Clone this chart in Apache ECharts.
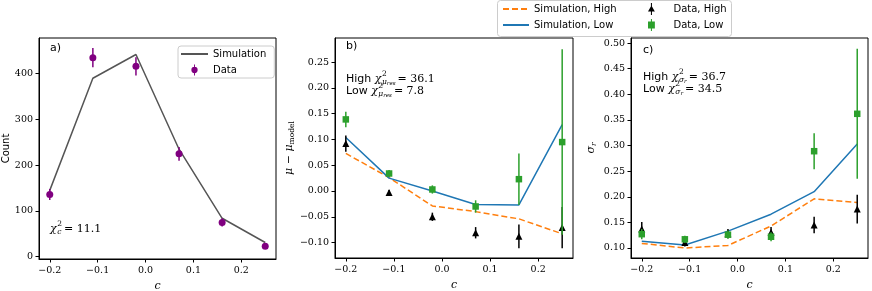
<!DOCTYPE html>
<html><head><meta charset="utf-8">
<script src="https://cdn.jsdelivr.net/npm/echarts@6/dist/echarts.min.js"></script>
<style>html,body{margin:0;padding:0;background:#fff}#c{width:872px;height:291px}</style>
</head><body><div id="c"></div>
<script>
// ---- data ----
const cVals = [-0.2, -0.11, -0.02, 0.07, 0.16, 0.25];
const xTicks = [-0.2, -0.1, 0.0, 0.1, 0.2];

const countData = [136, 435, 416, 225, 75, 23];
const countErr = [12, 21, 20, 15, 9, 5];
const countSim = [145, 390, 442, 235, 84, 31];
const countTicks = [0, 100, 200, 300, 400];

const muDataHigh = [0.092, -0.003, -0.050, -0.081, -0.088, -0.071];
const muErrHigh = [0.016, 0.005, 0.008, 0.011, 0.023, 0.040];
const muDataLow = [0.139, 0.034, 0.003, -0.030, 0.023, 0.095];
const muErrLow = [0.015, 0.007, 0.008, 0.012, 0.050, 0.180];
const muSimHigh = [0.073, 0.026, -0.029, -0.040, -0.054, -0.083];
const muSimLow = [0.104, 0.025, 0.000, -0.026, -0.027, 0.129];
const muTicks = [-0.10, -0.05, 0.00, 0.05, 0.10, 0.15, 0.20, 0.25];

const sigDataHigh = [0.137, 0.111, 0.128, 0.131, 0.145, 0.176];
const sigErrHigh = [0.014, 0.008, 0.009, 0.010, 0.016, 0.028];
const sigDataLow = [0.127, 0.117, 0.126, 0.122, 0.289, 0.362];
const sigErrLow = [0.010, 0.007, 0.008, 0.009, 0.035, 0.127];
const sigSimHigh = [0.109, 0.100, 0.105, 0.143, 0.196, 0.189];
const sigSimLow = [0.113, 0.106, 0.133, 0.166, 0.210, 0.303];
const sigTicks = [0.10, 0.15, 0.20, 0.25, 0.30, 0.35, 0.40, 0.45, 0.50];

// ---- styles ----
const SERIF = '"DejaVu Serif"';
const SANS = '"DejaVu Sans"';
const C_PURPLE = '#800080', C_GRAY = '#555555', C_ORANGE = '#ff7f0e', C_BLUE = '#1f77b4', C_GREEN = '#2ca02c';
const TICK_FS = 9.5;

const pair = (ys) => cVals.map((c, i) => [c, ys[i]]);
const triple = (ys, es) => cVals.map((c, i) => [c, ys[i], es[i]]);
const minus = (s) => s.replace('-', '\u2212');

function xAxisCfg(gi) {
  return {
    type: 'value', gridIndex: gi, min: -0.2225, max: 0.2725,
    name: 'c', nameLocation: 'middle', nameGap: 22,
    nameTextStyle: { fontFamily: SERIF, fontStyle: 'italic', fontSize: 11, color: '#000' },
    axisLine: { show: true, onZero: false, lineStyle: { color: '#000', width: 1 } },
    axisTick: { show: true, customValues: xTicks, length: 3.5, lineStyle: { color: '#000' } },
    axisLabel: { customValues: xTicks, formatter: v => minus(v.toFixed(1)), fontFamily: SERIF, fontSize: TICK_FS, color: '#000', margin: 7 },
    splitLine: { show: false }
  };
}
function yAxisCfg(gi, min, max, ticks, dec, name, nameStyle, gap) {
  return {
    type: 'value', gridIndex: gi, min: min, max: max,
    name: name, nameLocation: 'middle', nameGap: gap, nameRotate: 90,
    nameTextStyle: nameStyle,
    axisLine: { show: true, onZero: false, lineStyle: { color: '#000', width: 1 } },
    axisTick: { show: true, customValues: ticks, length: 3.5, lineStyle: { color: '#000' } },
    axisLabel: { customValues: ticks, formatter: v => minus(v.toFixed(dec)), fontFamily: SERIF, fontSize: TICK_FS, color: '#000', margin: 6 },
    splitLine: { show: false }
  };
}

function errSeries(name, gi, data, color, z) {
  return {
    name: name, type: 'custom', xAxisIndex: gi, yAxisIndex: gi, z: z, silent: true,
    data: data,
    renderItem: (params, api) => {
      const x = api.value(0), y = api.value(1), e = api.value(2);
      const p1 = api.coord([x, y - e]);
      const p2 = api.coord([x, y + e]);
      return { type: 'line', shape: { x1: p1[0], y1: p1[1], x2: p2[0], y2: p2[1] }, style: { stroke: color, lineWidth: 1.5 } };
    }
  };
}
function lineSeries(name, gi, ys, color, dashed) {
  return {
    name: name, type: 'line', xAxisIndex: gi, yAxisIndex: gi, data: pair(ys), symbol: 'none', z: 2,
    lineStyle: { color: color, width: 1.5, type: dashed ? [6, 3] : 'solid' },
    itemStyle: { color: color }
  };
}
function scatterSeries(name, gi, ys, color, symbol, size, z) {
  return {
    name: name, type: 'scatter', xAxisIndex: gi, yAxisIndex: gi, data: pair(ys), symbol: symbol, symbolSize: size, z: z,
    itemStyle: { color: color, opacity: 1 }
  };
}

// ---- math annotation helper ----
const meas = document.createElement('canvas').getContext('2d');
function tw(t, font) { meas.font = font; return meas.measureText(t).width; }
function txt(x, y, t, font, color) {
  return { type: 'text', x: x, y: y, z: 100, style: { text: t, font: font, fill: color || '#000', verticalAlign: 'middle', align: 'left' } };
}
function chiLabel(x, y, prefix, subParts, value) {
  const out = [];
  let cx = x;
  const fSans = '11px ' + SANS;
  const fMain = 'italic 11px ' + SERIF;
  const fSup = '7.5px ' + SERIF;
  if (prefix) { out.push(txt(cx, y, prefix, fSans)); cx += tw(prefix, fSans); }
  out.push(txt(cx, y, '\u03c7', fMain)); cx += tw('\u03c7', fMain) + 0.5;
  out.push(txt(cx, y - 4.5, '2', fSup));
  let sx = cx;
  subParts.forEach(p => { out.push(txt(sx, y + 3 + (p.dy || 0), p.t, p.font)); sx += tw(p.t, p.font); });
  cx = Math.max(cx + tw('2', fSup), sx) + 2;
  const rest = '= ' + value;
  out.push(txt(cx, y, rest, '11px ' + SERIF));
  return out;
}
const subI = 'italic 7.5px ' + SERIF;
const subII = 'italic 5.5px ' + SERIF;

const graphics = [].concat(
  [txt(50, 48, 'a)', '11px ' + SANS)],
  chiLabel(50, 229, '', [{ t: 'c', font: subI }], '11.1'),
  [txt(346, 46, 'b)', '11px ' + SANS)],
  chiLabel(346, 79, 'High ', [{ t: '\u03bc', font: subI }, { t: 'res', font: subII, dy: 2 }], '36.1'),
  chiLabel(346, 91, 'Low ', [{ t: '\u03bc', font: subI }, { t: 'res', font: subII, dy: 2 }], '7.8'),
  [txt(643, 50, 'c)', '11px ' + SANS)],
  chiLabel(643, 77, 'High ', [{ t: '\u03c3', font: subI }, { t: 'r', font: subII, dy: 2 }], '36.7'),
  chiLabel(643, 89, 'Low ', [{ t: '\u03c3', font: subI }, { t: 'r', font: subII, dy: 2 }], '34.5'),
  [{ type: 'rect', z: 3, shape: { x: 497.5, y: 0.5, width: 234, height: 36, r: 3 }, style: { fill: 'rgba(255,255,255,0.85)', stroke: '#cccccc', lineWidth: 1 } }]
);

// legend icons: marker with vertical error stem
const ICON_CIRCLE = 'path://M0,7 A4,4 0 1,1 8,7 A4,4 0 1,1 0,7 Z M3.4,0 L4.6,0 L4.6,14 L3.4,14 Z';
const ICON_TRI = 'path://M0,10 L4,3 L8,10 Z M3.4,0 L4.6,0 L4.6,14 L3.4,14 Z';
const ICON_SQ = 'path://M0,3 L8,3 L8,11 L0,11 Z M3.4,0 L4.6,0 L4.6,14 L3.4,14 Z';

const legendText = { fontFamily: SANS, fontSize: 10, color: '#000', lineHeight: 12 };
const gridBase = { show: true, borderColor: '#000', borderWidth: 1, backgroundColor: 'transparent', containLabel: false, outerBoundsMode: 'none' };

const option = {
  animation: false,
  backgroundColor: '#fff',
  grid: [
    Object.assign({ left: 39, top: 38, width: 237, height: 221 }, gridBase),
    Object.assign({ left: 335, top: 38, width: 238, height: 220 }, gridBase),
    Object.assign({ left: 631, top: 38, width: 237, height: 220 }, gridBase)
  ],
  xAxis: [xAxisCfg(0), xAxisCfg(1), xAxisCfg(2)],
  yAxis: [
    yAxisCfg(0, -5, 478, countTicks, 0, 'Count', { fontFamily: SANS, fontSize: 10, color: '#000' }, 27),
    yAxisCfg(1, -0.130, 0.297, muTicks, 2, '{i|\u03bc} \u2212 {i|\u03bc}{s|model}',
      { fontFamily: SERIF, fontSize: 11, color: '#000', rich: { i: { fontFamily: SERIF, fontStyle: 'italic', fontSize: 11 }, s: { fontFamily: SERIF, fontSize: 7.5, padding: [5, 0, 0, 0] } } }, 35),
    yAxisCfg(2, 0.0805, 0.51, sigTicks, 2, '{i|\u03c3}{s|r}',
      { fontFamily: SERIF, fontSize: 11, color: '#000', rich: { i: { fontFamily: SERIF, fontStyle: 'italic', fontSize: 11 }, s: { fontFamily: SERIF, fontStyle: 'italic', fontSize: 7.5, padding: [5, 0, 0, 0] } } }, 33)
  ],
  legend: [
    { data: [{ name: 'Simulation', itemStyle: { opacity: 0 } }, { name: 'Data', icon: ICON_CIRCLE, itemStyle: { opacity: 1 } }],
      orient: 'vertical', left: 178, top: 46, itemWidth: 27, itemHeight: 11, itemGap: 4,
      textStyle: legendText, backgroundColor: 'rgba(255,255,255,0.85)', borderColor: '#cccccc', borderWidth: 1, borderRadius: 3, padding: [2, 8, 2, 2], selectedMode: false },
    { data: ['Simulation, High', 'Simulation, Low'], orient: 'vertical', left: 502, top: 3, padding: 0, itemWidth: 26, itemHeight: 12, itemGap: 4,
      itemStyle: { opacity: 0 }, textStyle: legendText, selectedMode: false, z: 10 },
    { data: [{ name: 'Data, High', icon: ICON_TRI }, { name: 'Data, Low', icon: ICON_SQ }], orient: 'vertical', left: 648, top: 3, padding: 0,
      itemWidth: 8, itemHeight: 12, itemGap: 4,
      textStyle: Object.assign({}, legendText, { padding: [0, 0, 0, 13] }), selectedMode: false, z: 10 }
  ],
  graphic: graphics,
  series: [
    lineSeries('Simulation', 0, countSim, C_GRAY, false),
    errSeries('errData', 0, triple(countData, countErr), C_PURPLE, 3),
    scatterSeries('Data', 0, countData, C_PURPLE, 'circle', 7, 4),

    lineSeries('Simulation, High', 1, muSimHigh, C_ORANGE, true),
    lineSeries('Simulation, Low', 1, muSimLow, C_BLUE, false),
    errSeries('errH1', 1, triple(muDataHigh, muErrHigh), '#000', 3),
    scatterSeries('Data, High', 1, muDataHigh, '#000', 'triangle', 7, 4),
    errSeries('errL1', 1, triple(muDataLow, muErrLow), C_GREEN, 5),
    scatterSeries('Data, Low', 1, muDataLow, C_GREEN, 'rect', 6.5, 6),

    lineSeries('Simulation, High', 2, sigSimHigh, C_ORANGE, true),
    lineSeries('Simulation, Low', 2, sigSimLow, C_BLUE, false),
    errSeries('errH2', 2, triple(sigDataHigh, sigErrHigh), '#000', 3),
    scatterSeries('Data, High', 2, sigDataHigh, '#000', 'triangle', 7, 4),
    errSeries('errL2', 2, triple(sigDataLow, sigErrLow), C_GREEN, 5),
    scatterSeries('Data, Low', 2, sigDataLow, C_GREEN, 'rect', 6.5, 6)
  ]
};
const chart = echarts.init(document.getElementById('c'), null, { renderer: 'canvas' });
chart.setOption(option);
</script></body></html>
